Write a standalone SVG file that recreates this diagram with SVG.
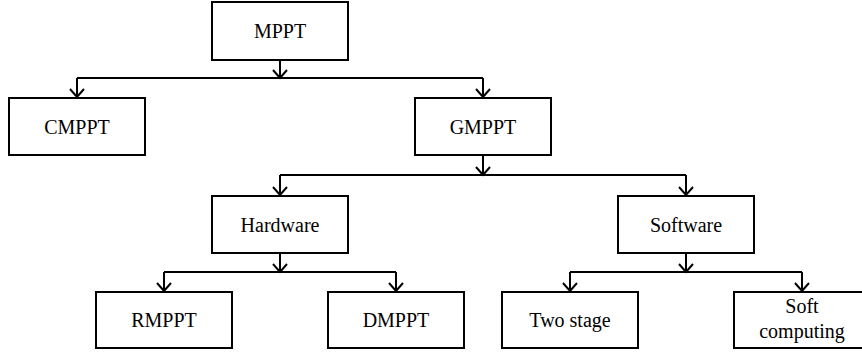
<svg xmlns="http://www.w3.org/2000/svg" width="862" height="354" viewBox="0 0 862 354">
  <style>
    .box { fill: #ffffff; stroke: #000000; stroke-width: 2; }
    .lbl { font-family: 'Liberation Serif', 'DejaVu Serif', 'Times New Roman', serif; font-size: 20px; fill: #000000; text-anchor: middle; }
    .wire { fill: none; stroke: #000000; stroke-width: 2; }
    .arr { marker-end: url(#head); }
  </style>
  <defs>
    <marker id="head" markerUnits="userSpaceOnUse" markerWidth="20" markerHeight="20" viewBox="-10 -10 20 20" refX="0" refY="0" orient="auto">
      <path d="M-8,-7 L0,0 L-8,7" fill="none" stroke="#000000" stroke-width="2"/>
    </marker>
  </defs>

  <rect width="862" height="354" fill="#ffffff"/>

  <g id="connectors">
    <!-- MPPT to level 1 -->
    <path class="wire arr" d="M280,60 V78"/>
    <path class="wire" d="M77,78 H483"/>
    <path class="wire arr" d="M77,78 V97"/>
    <path class="wire arr" d="M483,78 V97"/>
    <!-- GMPPT to Hardware / Software -->
    <path class="wire arr" d="M483,155 V175"/>
    <path class="wire" d="M280,175 H686"/>
    <path class="wire arr" d="M280,175 V195"/>
    <path class="wire arr" d="M686,175 V195"/>
    <!-- Hardware branches -->
    <path class="wire arr" d="M280,253 V272"/>
    <path class="wire" d="M164,272 H396"/>
    <path class="wire arr" d="M164,272 V291"/>
    <path class="wire arr" d="M396,272 V291"/>
    <!-- Software branches -->
    <path class="wire arr" d="M686,253 V272"/>
    <path class="wire" d="M570,272 H802"/>
    <path class="wire arr" d="M570,272 V291"/>
    <path class="wire arr" d="M802,272 V291"/>
  </g>

  <g id="mppt">
    <rect class="box" x="212" y="2" width="136" height="58"/>
    <text class="lbl" x="280" y="38">MPPT</text>
  </g>
  <g id="cmppt">
    <rect class="box" x="9" y="98" width="136" height="57"/>
    <text class="lbl" x="77" y="133.5">CMPPT</text>
  </g>
  <g id="gmppt">
    <rect class="box" x="415" y="98" width="136" height="57"/>
    <text class="lbl" x="483" y="133.5">GMPPT</text>
  </g>
  <g id="hardware">
    <rect class="box" x="212" y="196" width="136" height="57"/>
    <text class="lbl" x="280" y="231.5">Hardware</text>
  </g>
  <g id="software">
    <rect class="box" x="618" y="196" width="136" height="57"/>
    <text class="lbl" x="686" y="231.5">Software</text>
  </g>
  <g id="rmppt">
    <rect class="box" x="96" y="292" width="136" height="56"/>
    <text class="lbl" x="164" y="327">RMPPT</text>
  </g>
  <g id="dmppt">
    <rect class="box" x="328" y="292" width="136" height="56"/>
    <text class="lbl" x="396" y="327">DMPPT</text>
  </g>
  <g id="two-stage">
    <rect class="box" x="502" y="292" width="136" height="56"/>
    <text class="lbl" x="570" y="327">Two stage</text>
  </g>
  <g id="soft-computing">
    <rect class="box" x="734" y="292" width="136" height="56"/>
    <text class="lbl" x="802" y="313">Soft</text>
    <text class="lbl" x="802" y="338">computing</text>
  </g>
</svg>
